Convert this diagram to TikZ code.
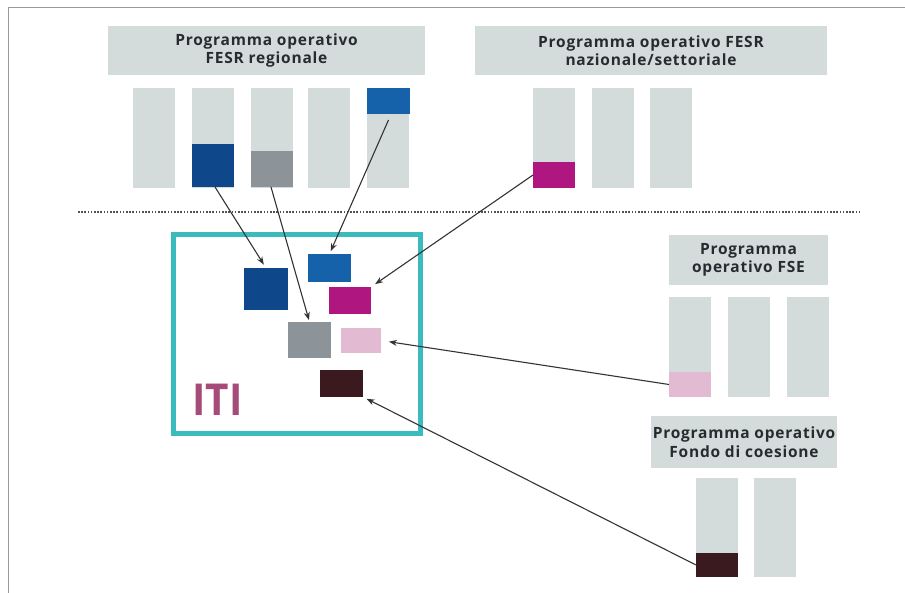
\documentclass[tikz,border=0pt]{standalone}
\usepackage{fontspec}
\setmainfont{Open Sans}
\usetikzlibrary{arrows.meta}
\definecolor{barfill}{HTML}{D3DCDA}
\definecolor{hdrtext}{HTML}{262B30}
\definecolor{navyblk}{HTML}{0E478A}
\definecolor{blueblk}{HTML}{1662AA}
\definecolor{greyblk}{HTML}{8D9499}
\definecolor{magblk}{HTML}{B0167F}
\definecolor{pinkblk}{HTML}{E2BAD2}
\definecolor{brownblk}{HTML}{3A1A1E}
\definecolor{itiframe}{HTML}{3CBBBF}
\definecolor{ititext}{HTML}{A64B78}
\definecolor{linkcol}{HTML}{333333}
\definecolor{framecol}{HTML}{9A9A9A}
\newfontfamily\hdrfont[LetterSpace=5]{Open Sans}
\tikzset{
  hdr/.style={fill=barfill, draw=none, inner sep=0pt, outer sep=0pt, anchor=north west,
    align=center, text=hdrtext, font=\hdrfont\bfseries\fontsize{15.5}{18.5}\selectfont},
  colbar/.style={fill=barfill, draw=none, inner sep=0pt, outer sep=0pt, anchor=north west,
    minimum width=42pt, minimum height=100pt},
  blk/.style={fill=#1, draw=none, inner sep=0pt, outer sep=0pt, anchor=north west},
  link/.style={draw=linkcol, line width=1.1pt, -{Stealth[length=8pt,width=6pt]}},
}
\begin{document}
\begin{tikzpicture}[x=1pt, y=-1pt]
  \useasboundingbox (0,0) rectangle (905,593);
  % outer frame (top and left edges only)
  \draw[framecol, line width=1pt] (905,8) -- (8,8) -- (8,593);

  % --- regional ERDF programme ---
  \node[hdr, minimum width=317pt, minimum height=49pt] (hR) at (108,26)
    {Programma operativo\\FESR regionale};
  \node[colbar] (r1) at (133,88) {};
  \node[colbar] (r2) at (192,88) {};
  \node[colbar] (r3) at (251,88) {};
  \node[colbar] (r4) at (308,88) {};
  \node[colbar] (r5) at (367,88) {};
  \node[blk=navyblk, minimum width=42pt, minimum height=43pt] (r2b) at (192,144) {};
  \node[blk=greyblk, minimum width=42pt, minimum height=36pt] (r3b) at (251,151) {};
  \node[blk=blueblk, minimum width=43pt, minimum height=26pt] (r5b) at (367,88) {};

  % --- national/sectoral ERDF programme ---
  \node[hdr, minimum width=352pt, minimum height=49pt] (hN) at (475,26)
    {Programma operativo FESR\\nazionale/settoriale};
  \node[colbar] (n1) at (533,88) {};
  \node[colbar] (n2) at (592,88) {};
  \node[colbar] (n3) at (650,88) {};
  \node[blk=magblk, minimum width=42pt, minimum height=26pt] (n1b) at (533,162) {};

  % separator
  \coordinate (sepL) at (78,212);
  \coordinate (sepR) at (860,212);
  \draw[linkcol!85, line width=1.3pt, dash pattern=on 1.6pt off 1.6pt] (sepL) -- (sepR);

  % --- ITI frame ---
  \node[draw=itiframe, line width=5pt, inner sep=0pt, outer sep=0pt, anchor=north west,
    minimum width=247pt, minimum height=198pt] (iti) at (173,235) {};
  \node[anchor=south west, inner sep=0pt, text=ititext,
    font=\bfseries\fontsize{44}{44}\selectfont, xscale=0.92] (itiLabel) at (192,416) {ITI};
  \node[blk=navyblk, minimum width=44pt, minimum height=42pt] (iNavy) at (244,268) {};
  \node[blk=blueblk, minimum width=43pt, minimum height=28pt] (iBlue) at (308,254) {};
  \node[blk=magblk, minimum width=42pt, minimum height=27pt] (iMag) at (329,287) {};
  \node[blk=greyblk, minimum width=43pt, minimum height=36pt] (iGrey) at (288,322) {};
  \node[blk=pinkblk, minimum width=40pt, minimum height=25pt] (iPink) at (341,328) {};
  \node[blk=brownblk, minimum width=43pt, minimum height=27pt] (iBrown) at (320,370) {};

  % --- ESF programme ---
  \node[hdr, minimum width=159pt, minimum height=50pt] (hS) at (669,235)
    {Programma\\operativo FSE};
  \node[colbar] (s1) at (669,297) {};
  \node[colbar] (s2) at (728,297) {};
  \node[colbar] (s3) at (787,297) {};
  \node[blk=pinkblk, minimum width=42pt, minimum height=25pt] (s1b) at (669,372) {};

  % --- Cohesion Fund programme ---
  \node[hdr, minimum width=186pt, minimum height=52pt] (hC) at (651,416)
    {Programma operativo\\Fondo di coesione};
  \node[colbar, minimum height=99pt] (c1) at (696,478) {};
  \node[colbar, minimum height=99pt] (c2) at (754,478) {};
  \node[blk=brownblk, minimum width=42pt, minimum height=24pt] (c1b) at (696,553) {};

  % --- links into the ITI ---
  \draw[link, shorten >=4pt] ([xshift=2pt]r2b.south) -- (iNavy.north);
  \draw[link, shorten >=2pt] ([xshift=-1pt]r3b.south) -- (iGrey.north);
  \draw[link, shorten >=3pt] ([yshift=-6pt]r5b.south) -- (iBlue.north);
  \draw[link, shorten >=5pt] (n1b.west) -- (iMag.north east);
  \draw[link, shorten >=8pt] (s1b.west) -- (iPink.east);
  \draw[link, shorten >=4pt] (c1b.west) -- (iBrown.south east);
\end{tikzpicture}
\end{document}
